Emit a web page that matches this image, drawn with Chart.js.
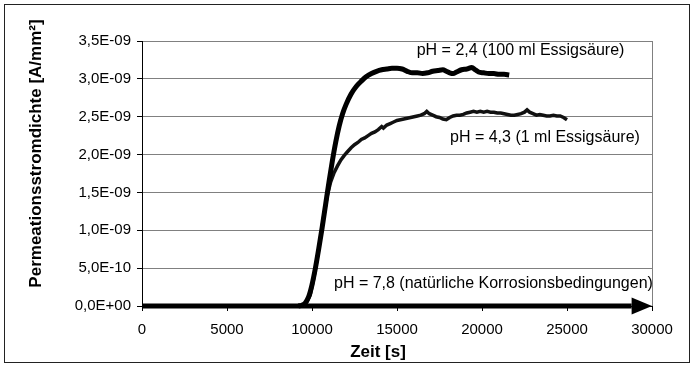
<!DOCTYPE html>
<html><head><meta charset="utf-8">
<script src="https://cdn.jsdelivr.net/npm/chart.js@4/dist/chart.umd.min.js"></script>
<style>html,body{margin:0;padding:0;background:#fff;}canvas{display:block;}</style>
</head><body>
<canvas id="c" width="694" height="367"></canvas>
<script>
// ---- data (values in units of 1E-09 A/mm²) ----
const UNIT = 1e-9;
const timeA = [9200,9400,9600,9800,10000,10200,10400,10600,10800,11000,11200,11400,11600,11800,12000,12300,12600,12900,13200,13500,13800,14100,14400,14700,15000,15300,15600,15900,16200,16500,16800,17100,17400,17700,17900,18100,18300,18500,18800,19100,19400,19600,19800,20100,20400,20700,21000,21300,21600];
const valA  = [0,0.01,0.04,0.12,0.28,0.5,0.76,1.04,1.34,1.64,1.92,2.17,2.38,2.54,2.66,2.8,2.9,2.97,3.03,3.07,3.1,3.12,3.13,3.14,3.14,3.13,3.1,3.08,3.08,3.07,3.08,3.1,3.11,3.12,3.1,3.08,3.07,3.09,3.12,3.13,3.15,3.12,3.09,3.08,3.07,3.07,3.06,3.06,3.05];

const timeB = [9300,9500,9700,9900,10100,10300,10500,10700,10900,11100,11300,11500,11700,11900,12100,12300,12500,12700,12900,13100,13300,13500,13700,13900,14100,14200,14400,14600,14800,15000,15200,15400,15600,15800,16000,16200,16400,16600,16750,16900,17100,17300,17500,17700,17900,18100,18300,18500,18700,18900,19100,19300,19500,19700,19900,20100,20300,20500,20700,20900,21100,21300,21500,21700,21900,22100,22300,22500,22650,22800,23000,23200,23400,23600,23800,24000,24200,24400,24600,24800,25000];
const valB  = [0,0.01,0.05,0.15,0.36,0.62,0.9,1.2,1.46,1.64,1.76,1.85,1.93,1.99,2.04,2.09,2.13,2.16,2.2,2.22,2.25,2.28,2.3,2.33,2.37,2.35,2.39,2.41,2.43,2.45,2.46,2.47,2.48,2.49,2.5,2.51,2.52,2.54,2.57,2.54,2.52,2.5,2.49,2.47,2.46,2.49,2.51,2.52,2.52,2.53,2.55,2.56,2.57,2.56,2.57,2.56,2.57,2.56,2.56,2.55,2.55,2.54,2.53,2.52,2.52,2.53,2.54,2.56,2.59,2.56,2.54,2.52,2.53,2.52,2.51,2.51,2.52,2.51,2.51,2.49,2.46];

const timeC = [0, 28800];
const valC  = [0, 0];

const xTickValues = [0,5000,10000,15000,20000,25000,30000];
const yTickValues = [0,0.5,1,1.5,2,2.5,3,3.5];

const seriesLabels = ['pH = 2,4 (100 ml Essigsäure)','pH = 4,3 (1 ml Essigsäure)','pH = 7,8 (natürliche Korrosionsbedingungen)'];
const labelAtTime  = [16160, 18118, 11294];
const labelAtValue = [3.315, 2.17, 0.234];

const yTitle = 'Permeationsstromdichte [A/mm²]';
const xTitle = 'Zeit [s]';

// ---- helpers ----
const FONT = "'Liberation Sans', Arial, sans-serif";
function pts(t, v){ return t.map((x,i)=>({x:x, y:v[i]*UNIT})); }
function fmt(v){
  const s = Number(v).toExponential(1);
  const parts = s.split('e');
  const n = parseInt(parts[1],10);
  return parts[0].replace('.',',') + 'E' + (n<0?'-':'+') + String(Math.abs(n)).padStart(2,'0');
}

const deco = {
  id:'deco',
  beforeDraw(chart){
    const c = chart.ctx;
    c.save();
    c.fillStyle = '#fff';
    c.fillRect(0,0,chart.width,chart.height);
    c.strokeStyle = '#222';
    c.lineWidth = 1;
    c.strokeRect(4.5,4.5,685,358);
    c.restore();
  },
  beforeDatasetsDraw(chart){
    const c = chart.ctx, a = chart.chartArea;
    c.save();
    c.strokeStyle = '#808080';
    c.lineWidth = 1;
    c.beginPath();
    c.moveTo(Math.round(a.right)+0.5, a.top);
    c.lineTo(Math.round(a.right)+0.5, a.bottom);
    c.stroke();
    c.restore();
  },
  afterDatasetsDraw(chart){
    const c = chart.ctx;
    const xs = chart.scales.x, ys = chart.scales.y;
    // arrow head on the pH 7,8 line
    const bx = xs.getPixelForValue(timeC[timeC.length-1]);
    const tx = xs.getPixelForValue(xs.max);
    const yy = ys.getPixelForValue(valC[valC.length-1]*UNIT);
    c.save();
    c.fillStyle = '#000';
    c.beginPath();
    c.moveTo(bx, yy-8.5);
    c.lineTo(tx, yy);
    c.lineTo(bx, yy+8.5);
    c.closePath();
    c.fill();
    // series labels
    c.font = '16px ' + FONT;
    c.fillStyle = '#000';
    c.textAlign = 'left';
    c.textBaseline = 'alphabetic';
    seriesLabels.forEach((s,i)=>{
      c.fillText(s, xs.getPixelForValue(labelAtTime[i]), ys.getPixelForValue(labelAtValue[i]*UNIT));
    });
    // axis titles
    c.font = 'bold 17px ' + FONT;
    c.textAlign = 'center';
    c.fillText(xTitle, 378, 356.5);
    c.translate(41, 153.5);
    c.rotate(-Math.PI/2);
    c.fillText(yTitle, 0, 0);
    c.restore();
  }
};

new Chart(document.getElementById('c'), {
  type:'line',
  data:{
    datasets:[
      {label:seriesLabels[0], data:pts(timeA,valA), borderColor:'#000', borderWidth:5, pointRadius:0, cubicInterpolationMode:'monotone', clip:false},
      {label:seriesLabels[1], data:pts(timeB,valB), borderColor:'#111', borderWidth:3.5, pointRadius:0, clip:false},
      {label:seriesLabels[2], data:pts(timeC,valC), borderColor:'#000', borderWidth:5, pointRadius:0, clip:false, borderCapStyle:'butt'}
    ]
  },
  options:{
    responsive:false,
    animation:false,
    events:[],
    layout:{padding:{left:0,right:42,top:41,bottom:0}},
    plugins:{legend:{display:false}, tooltip:{enabled:false}},
    scales:{
      x:{
        type:'linear', min:0, max:30000,
        afterBuildTicks(s){ s.ticks = xTickValues.map(v=>({value:v})); },
        afterFit(s){ s.height = 61; },
        ticks:{font:{size:15,family:FONT}, color:'#000', padding:10, maxRotation:0, autoSkip:false, callback:(v)=>String(v)},
        grid:{drawOnChartArea:false, tickLength:5, tickColor:'#000', color:'#000'},
        border:{color:'#000', width:1}
      },
      y:{
        type:'linear', min:0, max:3.5*UNIT,
        afterBuildTicks(s){ s.ticks = yTickValues.map(v=>({value:v*UNIT})); },
        afterFit(s){ s.width = 142; },
        ticks:{font:{size:15,family:FONT}, color:'#000', padding:6, autoSkip:false, callback:(v)=>fmt(v)},
        grid:{color:'#808080', tickColor:'#000', tickLength:5, lineWidth:1},
        border:{color:'#000', width:1}
      }
    }
  },
  plugins:[deco]
});
</script>
</body></html>
